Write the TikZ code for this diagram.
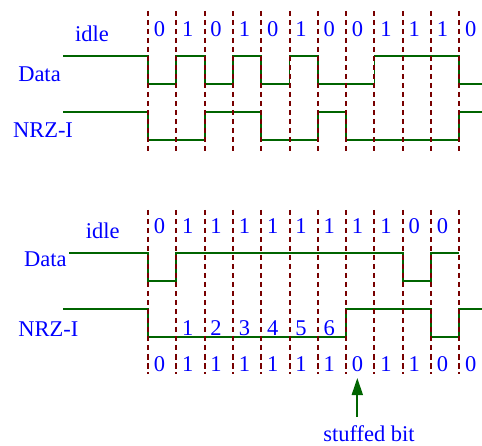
\documentclass[tikz,border=0pt]{standalone}
\usepackage{fontspec}
\setmainfont{Liberation Serif}
\usetikzlibrary{arrows.meta}
\definecolor{wavegreen}{RGB}{0,100,0}
\definecolor{gridred}{RGB}{120,0,0}
\definecolor{txtblue}{RGB}{0,0,255}
\tikzset{
  wave/.style={draw=wavegreen, line width=1.8pt},
  grid/.style={draw=gridred, line width=2pt, dash pattern=on 5.5pt off 3.5pt},
  lbl/.style={text=txtblue, font=\fontsize{22.5}{26}\selectfont, inner sep=0pt, anchor=base},
  bitlbl/.style={lbl},
  stuffarrow/.style={draw=wavegreen, line width=1.8pt, -{Triangle[length=17pt,width=11pt]}}
}
\begin{document}
\begin{tikzpicture}[x=1pt,y=-1pt]
\useasboundingbox (0,0) rectangle (482,446);
% ---------- top section ----------
\node[lbl] (idleA) at (92,41.7) {idle};
\node[lbl] (dataA) at (39.5,81.7) {Data};
\node[lbl] (nrzA) at (43,137.3) {NRZ-I};
\draw[wave] (63,56) -- (148,56) -- (148,84) -- (176.3,84) -- (176.3,56) -- (204.6,56) -- (204.6,84) -- (232.9,84) -- (232.9,56) -- (261.2,56) -- (261.2,84) -- (289.5,84) -- (289.5,56) -- (317.8,56) -- (317.8,84) -- (374.4,84) -- (374.4,56) -- (459.3,56) -- (459.3,84) -- (482,84);
\draw[wave] (63,112) -- (148,112) -- (148,140) -- (204.6,140) -- (204.6,112) -- (261.2,112) -- (261.2,140) -- (317.8,140) -- (317.8,112) -- (346.1,112) -- (346.1,140) -- (459.3,140) -- (459.3,112) -- (482,112);
\foreach \i in {0,...,11} {
  \draw[grid] ({148+28.3*\i},11) -- ({148+28.3*\i},153);
}
\foreach \b [count=\i from 0] in {0,1,0,1,0,1,0,0,1,1,1,0} {
  \node[bitlbl] (ta\i) at ({159.5+28.3*\i},37) {\b};
}
% ---------- bottom section ----------
\node[lbl] (idleB) at (102.7,239) {idle};
\node[lbl] (dataB) at (45.3,266.7) {Data};
\node[lbl] (nrzB) at (48.3,336.7) {NRZ-I};
\draw[wave] (69,253) -- (148,253) -- (148,281) -- (176.3,281) -- (176.3,253) -- (402.7,253) -- (402.7,281) -- (431,281) -- (431,253) -- (459.3,253);
\draw[wave] (63,309) -- (148,309) -- (148,337) -- (346.1,337) -- (346.1,309) -- (431,309) -- (431,337) -- (459.3,337) -- (459.3,309) -- (482,309);
\foreach \i in {0,...,11} {
  \draw[grid] ({148+28.3*\i},210) -- ({148+28.3*\i},374);
}
\foreach \b [count=\i from 0] in {0,1,1,1,1,1,1,1,1,0,0} {
  \node[bitlbl] (tb\i) at ({159.5+28.3*\i},234) {\b};
}
\foreach \b [count=\i from 1] in {1,2,3,4,5,6} {
  \node[bitlbl] (cnt\i) at ({159.5+28.3*\i},336) {\b};
}
\foreach \b [count=\i from 0] in {0,1,1,1,1,1,1,0,1,1,0,0} {
  \node[bitlbl] (bb\i) at ({159.5+28.3*\i},371) {\b};
}
% ---------- stuffed bit ----------
\node[lbl] (stuffed) at (369,441.7) {stuffed bit};
\coordinate (tip) at (357.3,378);
\draw[stuffarrow] (357.3,417) -- (tip);
\end{tikzpicture}
\end{document}
